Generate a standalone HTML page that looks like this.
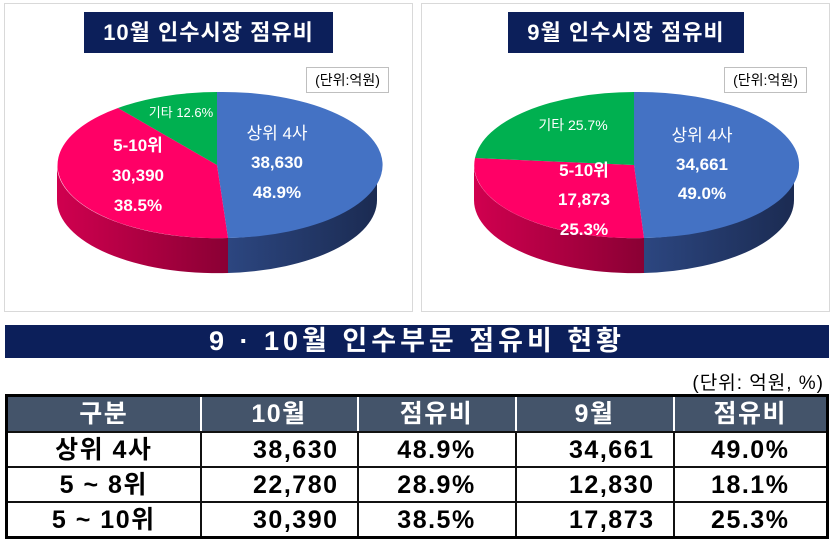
<!DOCTYPE html>
<html><head><meta charset="utf-8"><style>
body{margin:0;width:834px;height:543px;background:#fff;position:relative;overflow:hidden;font-family:"Liberation Sans","Noto Sans CJK KR",sans-serif}
.panel{position:absolute;top:3px;width:409px;height:309px;border:1px solid #d9d9d9;box-sizing:border-box}
.ttl{position:absolute;background:#0c1f5a;color:#fff;font-weight:bold;font-size:22px;letter-spacing:1px;text-align:center;line-height:41px;top:12px;height:41px;white-space:nowrap}
.unit{position:absolute;border:1px solid #bfbfbf;font-size:14px;text-align:center;line-height:25px;height:26px;box-sizing:border-box;color:#000}
.bar{position:absolute;left:5px;top:325px;width:824px;height:33px;background:#0c1f5a;color:#fff;font-weight:bold;font-size:27px;letter-spacing:4px;text-align:center;line-height:33px;white-space:nowrap}
table{position:absolute;left:5px;top:394px;width:824px;border-collapse:collapse;border:3px solid #000;table-layout:fixed}
td{border:2px solid #111;text-align:center;font-weight:bold;font-size:25px;letter-spacing:1.5px;padding:0;color:#000;white-space:nowrap;height:33px;line-height:28px;overflow:hidden}
tr.h td{background:#44546a;color:#fff;height:34px;border-color:#fff #fff #111 #fff}
tr.h td:first-child{border-left-color:#000}
td.n{text-align:right;padding-right:18px}
</style></head><body>
<div class="panel" style="left:4px"></div>
<div class="panel" style="left:421px"></div>
<div class="ttl" style="left:84px;width:249px">10월 인수시장 점유비</div>
<div class="ttl" style="left:508px;width:236px">9월 인수시장 점유비</div>
<div class="unit" style="left:306px;top:67px;width:83px">(단위:억원)</div>
<div class="unit" style="left:724px;top:67px;width:83px">(단위:억원)</div>
<svg width="834" height="320" style="position:absolute;left:0;top:0">
<defs>
<linearGradient id="bs" x1="0" x2="1"><stop offset="0" stop-color="#2c4680"/><stop offset="1" stop-color="#1b2b52"/></linearGradient>
<linearGradient id="rs" x1="0" x2="1"><stop offset="0" stop-color="#d0004f"/><stop offset="1" stop-color="#8a0034"/></linearGradient>
</defs>
<g>
<path d="M377,165 A160,73 0 0 1 228,238 L228,273 A160,73 0 0 0 377,200 Z" fill="url(#bs)"/>
<path d="M228,238 A160,73 0 0 1 57,165 L57,200 A160,73 0 0 0 228,273 Z" fill="url(#rs)"/>
<path d="M217,165 L217,92 A160,73 0 0 1 228,238 Z" fill="#4472c4"/>
<path d="M217,165 L228,238 A160,73 0 0 1 118,108 Z" fill="#ff0066"/>
<path d="M217,165 L118,108 A160,73 0 0 1 217,92 Z" fill="#00b050"/>
</g>
<g>
<path d="M794,165 A160,73 0 0 1 644,238 L644,273 A160,73 0 0 0 794,200 Z" fill="url(#bs)"/>
<path d="M644,238 A160,73 0 0 1 474,165 L474,200 A160,73 0 0 0 644,273 Z" fill="url(#rs)"/>
<path d="M634,165 L634,92 A160,73 0 0 1 644,238 Z" fill="#4472c4"/>
<path d="M634,165 L644,238 A160,73 0 0 1 475,158 Z" fill="#ff0066"/>
<path d="M634,165 L475,158 A160,73 0 0 1 634,92 Z" fill="#00b050"/>
</g>
<g fill="#fff" font-family="Liberation Sans,Noto Sans CJK KR,sans-serif" text-anchor="middle" font-size="17">
<text x="277" y="139">상위 4사</text>
<text x="277" y="168" font-weight="bold">38,630</text>
<text x="277" y="198" font-weight="bold">48.9%</text>
<text x="138" y="151" font-weight="bold">5-10위</text>
<text x="138" y="181" font-weight="bold">30,390</text>
<text x="138" y="211" font-weight="bold">38.5%</text>
<text x="181" y="117" font-size="13">기타 12.6%</text>
<text x="702" y="141">상위 4사</text>
<text x="702" y="170" font-weight="bold">34,661</text>
<text x="702" y="199" font-weight="bold">49.0%</text>
<text x="584" y="176" font-weight="bold">5-10위</text>
<text x="584" y="205" font-weight="bold">17,873</text>
<text x="584" y="235" font-weight="bold">25.3%</text>
<text x="573" y="130" font-size="14">기타 25.7%</text>
</g>
</svg>
<div class="bar">9 · 10월 인수부문 점유비 현황</div>
<div style="position:absolute;right:10px;top:368px;font-size:19px;letter-spacing:1px;color:#000">(단위: 억원, %)</div>
<table>
<colgroup><col style="width:194px"><col style="width:157px"><col style="width:158px"><col style="width:158px"><col></colgroup>
<tr class="h"><td>구분</td><td>10월</td><td>점유비</td><td>9월</td><td>점유비</td></tr>
<tr><td>상위 4사</td><td class="n">38,630</td><td>48.9%</td><td class="n">34,661</td><td>49.0%</td></tr>
<tr><td>5 ~ 8위</td><td class="n">22,780</td><td>28.9%</td><td class="n">12,830</td><td>18.1%</td></tr>
<tr><td>5 ~ 10위</td><td class="n">30,390</td><td>38.5%</td><td class="n">17,873</td><td>25.3%</td></tr>
</table>
</body></html>
